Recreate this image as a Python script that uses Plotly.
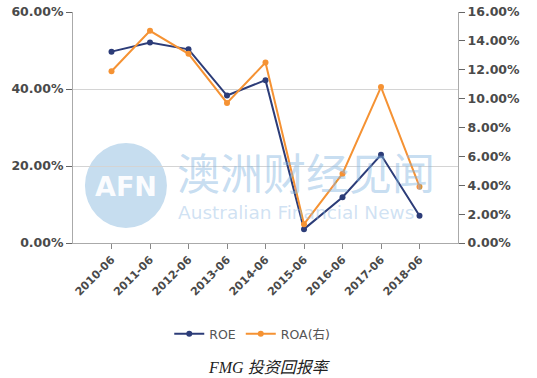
import plotly.graph_objects as go

periods = ["2010-06", "2011-06", "2012-06", "2013-06", "2014-06",
           "2015-06", "2016-06", "2017-06", "2018-06"]
roe = [49.7, 52.1, 50.3, 38.3, 42.3, 3.6, 11.9, 22.9, 7.1]
roa = [11.9, 14.7, 13.1, 9.7, 12.5, 1.3, 4.8, 10.8, 3.9]

NAVY = "#2c3c78"
ORANGE = "#f59233"
TICKFONT = dict(family="DejaVu Sans", size=12.5, color="#4a4a4a", weight="bold")

fig = go.Figure()
fig.add_trace(go.Scatter(x=periods, y=roe, name="ROE", mode="lines+markers",
                         line=dict(color=NAVY, width=2),
                         marker=dict(color=NAVY, size=6), yaxis="y"))
fig.add_trace(go.Scatter(x=periods, y=roa, name="ROA(右)", mode="lines+markers",
                         line=dict(color=ORANGE, width=2),
                         marker=dict(color=ORANGE, size=6), yaxis="y2"))

fig.update_layout(
    width=537, height=378,
    margin=dict(l=73, r=79, t=12, b=135),
    paper_bgcolor="white", plot_bgcolor="white",
    font=dict(family="DejaVu Sans, Noto Sans CJK SC", color="#4a4a4a"),
    xaxis=dict(type="category", range=[-1, 9], showgrid=False, automargin=False,
               showline=True, linecolor="#aaaaaa", linewidth=1,
               ticks="outside", ticklen=5, tickcolor="#888888",
               tickangle=-45, tickfont=dict(family="DejaVu Sans", size=11,
                                            color="#4a4a4a", weight="bold")),
    yaxis=dict(range=[0, 60], dtick=20, tickformat=".2f", ticksuffix="%",
               automargin=False,
               showgrid=True, gridcolor="#d4d4d4", gridwidth=1,
               showline=True, linecolor="#aaaaaa", linewidth=1,
               ticks="outside", ticklen=6, tickcolor="#666666",
               tickfont=TICKFONT, zeroline=False),
    yaxis2=dict(range=[0, 16], dtick=2, tickformat=".2f", ticksuffix="%",
                automargin=False,
                overlaying="y", side="right", showgrid=False,
                showline=True, linecolor="#aaaaaa", linewidth=1,
                ticks="outside", ticklen=6, tickcolor="#666666",
                tickfont=TICKFONT, zeroline=False),
    legend=dict(orientation="h", x=0.25, y=-0.394, xanchor="left",
                yanchor="middle", font=dict(size=12.5, color="#555555"),
                itemwidth=30, bgcolor="rgba(0,0,0,0)"),
    showlegend=True,
)

# watermark
fig.add_shape(type="circle", xref="paper", yref="paper",
              x0=0.031, x1=0.244, y0=0.065, y1=0.433,
              fillcolor="#c6ddef", line=dict(width=0), layer="below")
fig.add_annotation(text="AFN", xref="paper", yref="paper", x=0.138, y=0.245,
                   xanchor="center", yanchor="middle",
                   showarrow=False, font=dict(family="DejaVu Sans", size=27,
                                              color="rgba(255,255,255,0.95)", weight="bold"))
fig.add_annotation(text="澳洲财经见闻", xref="paper", yref="paper", x=0.265, y=0.31,
                   xanchor="left", yanchor="middle", showarrow=False,
                   font=dict(family="Noto Sans CJK SC", size=43,
                             color="rgba(130,180,225,0.45)"))
fig.add_annotation(text="Australian Financial News", xref="paper", yref="paper",
                   x=0.267, y=0.13, xanchor="left", yanchor="middle", showarrow=False,
                   font=dict(family="DejaVu Sans", size=18.5,
                             color="rgba(150,190,228,0.45)"))

# caption
fig.add_annotation(text="<i>FMG 投资回报率</i>", xref="paper", yref="paper",
                   x=0.51, y=-0.541, xanchor="center", yanchor="middle",
                   showarrow=False,
                   font=dict(family="Liberation Serif, Noto Sans CJK SC", size=16,
                             color="#222222"))

fig.write_html("out.html", config={"displayModeBar": False},
               post_script="document.body.style.margin='0';")
